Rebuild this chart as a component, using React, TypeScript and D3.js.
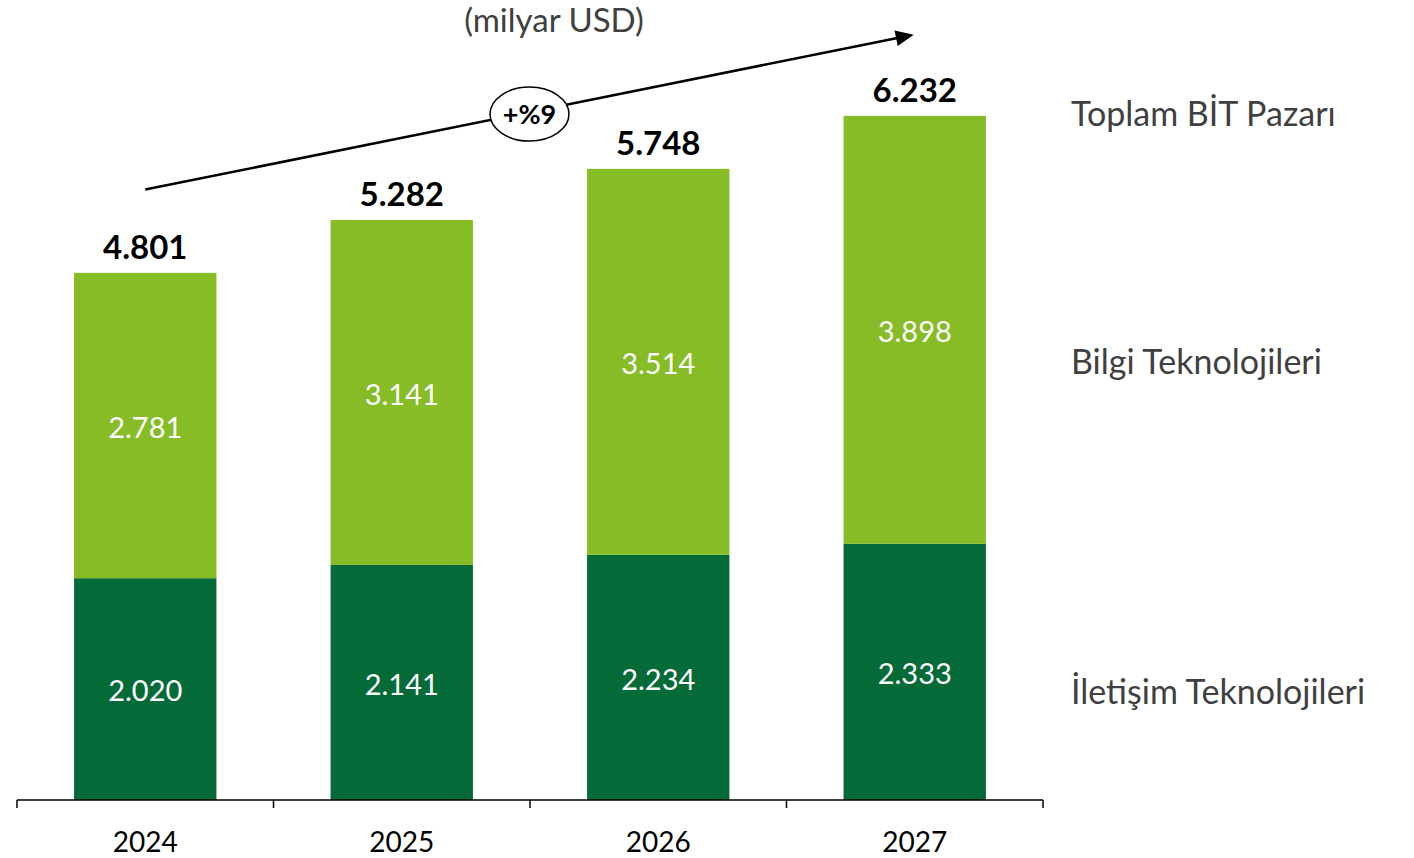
import React from "react";
import * as d3 from "d3";

const years = ["2024", "2025", "2026", "2027"];
const iletisim = [2.02, 2.141, 2.234, 2.333];
const bilgi = [2.781, 3.141, 3.514, 3.898];
const totals = [4.801, 5.282, 5.748, 6.232];
const seriesNames = ["İletişim Teknolojileri", "Bilgi Teknolojileri", "Toplam BİT Pazarı"];
const title = "(milyar USD)";
const growth = "+%9";

const W = 1414;
const H = 858;
const FONT = "Lato, 'Open Sans', sans-serif";
const DARK = "#046A38";
const LIGHT = "#86BC25";

const fmt = (v: number) => v.toFixed(3);

export default function App() {
  const x = d3.scaleBand<string>().domain(years).range([17, 1043]).paddingInner(0.445).paddingOuter(0.2225);
  const band = d3.scaleBand<string>().domain(years).range([17, 1043]);
  const y = d3.scaleLinear().domain([0, 7.286]).range([800, 0]);

  const xc = (i: number) => (band(years[i]) as number) + band.bandwidth() / 2;

  const ax0 = xc(0), ay0 = y(5.56);
  const ax1 = xc(3) - 1, ay1 = y(6.97);
  const ang = Math.atan2(ay1 - ay0, ax1 - ax0);
  const ex = ax0 + (ax1 - ax0) * 0.5;
  const ey = ay0 + (ay1 - ay0) * 0.5 + 2;

  const ticks = [0, 1, 2, 3, 4].map((k) => 17 + k * band.bandwidth());

  return (
    <svg width={W} height={H} style={{ position: "absolute", left: 0, top: 0 }} fontFamily={FONT}>
      <rect width={W} height={H} fill="#fff" />
      <text x={554} y={20} dy="0.35em" textAnchor="middle" fontSize={33} fill="#404040">{title}</text>
      {years.map((yr, i) => {
        const bx = x(yr) as number;
        const bw = x.bandwidth();
        const d0 = y(iletisim[i]);
        const d1 = y(iletisim[i] + bilgi[i]);
        return (
          <g key={yr}>
            <rect x={bx} y={d0} width={bw} height={800 - d0} fill={DARK} />
            <rect x={bx} y={d1} width={bw} height={d0 - d1} fill={LIGHT} />
            <text x={bx + bw / 2} y={(800 + d0) / 2 + 2} dy="0.35em" textAnchor="middle" fontSize={29} fill="#fff">{fmt(iletisim[i])}</text>
            <text x={bx + bw / 2} y={(d0 + d1) / 2 + 2} dy="0.35em" textAnchor="middle" fontSize={29} fill="#fff">{fmt(bilgi[i])}</text>
            <text x={bx + bw / 2} y={y(totals[i]) - 14} textAnchor="middle" fontSize={33} fontWeight="bold" fill="#000">{fmt(totals[i])}</text>
            <text x={xc(i)} y={842} dy="0.35em" textAnchor="middle" fontSize={28} fill="#000">{yr}</text>
          </g>
        );
      })}
      <line x1={17} x2={1043} y1={800} y2={800} stroke="#000" strokeWidth={1.5} />
      {ticks.map((t, i) => (
        <line key={i} x1={t} x2={t} y1={800} y2={808} stroke="#000" strokeWidth={1.5} />
      ))}
      <line x1={ax0} y1={ay0} x2={ax1 - 14 * Math.cos(ang)} y2={ay1 - 14 * Math.sin(ang)} stroke="#000" strokeWidth={2.5} />
      <polygon
        points={[
          [ax1, ay1],
          [ax1 - 18 * Math.cos(ang) + 8 * Math.sin(ang), ay1 - 18 * Math.sin(ang) - 8 * Math.cos(ang)],
          [ax1 - 18 * Math.cos(ang) - 8 * Math.sin(ang), ay1 - 18 * Math.sin(ang) + 8 * Math.cos(ang)],
        ].map((p) => p.join(",")).join(" ")}
        fill="#000"
      />
      <ellipse cx={ex} cy={ey} rx={39.5} ry={27} fill="#fff" stroke="#000" strokeWidth={1.5} />
      <text x={ex} y={ey} dy="0.35em" textAnchor="middle" fontSize={27} fontWeight="bold" fill="#000">{growth}</text>
      <text x={1071} y={y(totals[3]) - 2} dy="0.35em" fontSize={34} fill="#404040">{seriesNames[2]}</text>
      <text x={1071} y={y(iletisim[2] + bilgi[2] / 2)} dy="0.35em" fontSize={34} fill="#404040">{seriesNames[1]}</text>
      <text x={1071} y={y(iletisim[2] / 2) + 15} dy="0.35em" fontSize={34} fill="#404040">{seriesNames[0]}</text>
    </svg>
  );
}
